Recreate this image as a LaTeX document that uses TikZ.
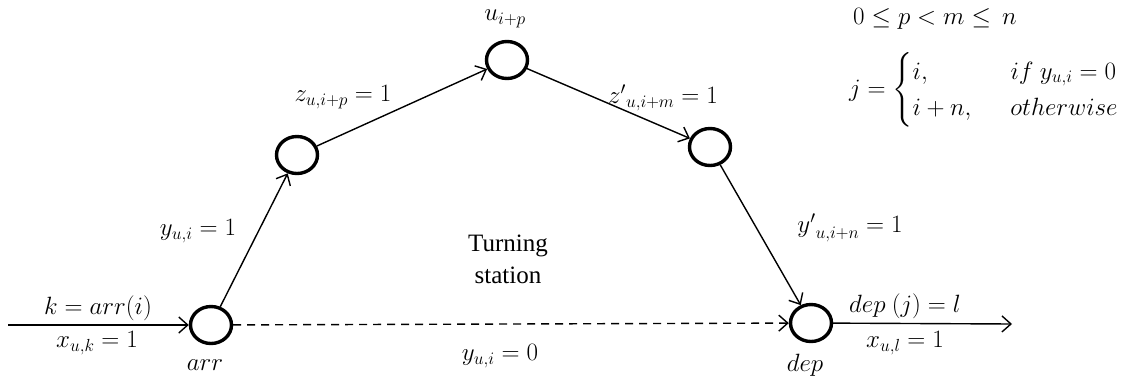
\RequirePackage{fix-cm}
\documentclass[tikz,border=0pt]{standalone}
\usepackage{amsmath}
\usepackage{fontspec}
\setmainfont{Liberation Serif}
\usetikzlibrary{arrows.meta,shapes.geometric}
\begin{document}
\begin{tikzpicture}[x=1pt,y=-1pt,
  st/.style={draw,ellipse,line width=3.4pt,minimum width=41pt,minimum height=37pt,inner sep=0pt},
  lab/.style={font=\fontsize{25}{30}\selectfont,inner sep=1pt},
  txt/.style={font=\fontsize{25}{32}\selectfont,inner sep=1pt},
  arc/.style={line width=1.4pt,-{Straight Barb[length=9pt,width=16pt,line width=1.4pt]}},
  every node/.append style={text=black}]
\useasboundingbox (0,0) rectangle (1129,383);
\node[st] (arr) at (211,325) {};
\node[st] (b) at (297,155) {};
\node[st] (top) at (507,60) {};
\node[st] (c) at (710,147) {};
\node[st] (dep) at (811,323) {};
\coordinate (in) at (8,325);
\coordinate (out) at (1012,324);
\draw[arc] (in) -- (arr);
\draw[arc] (arr) -- (b);
\draw[arc] (b) -- (top);
\draw[arc] (top) -- (c);
\draw[arc] (c) -- (dep);
\draw[arc,dashed,dash pattern=on 8pt off 6pt] (arr) -- (dep);
\draw[arc] (dep) -- (out);
\node[lab] (l1) at (98,308) {$k = arr(i)$};
\node[lab] (l2) at (97,343) {$x_{u,k} = 1$};
\node[lab] (l3) at (205,365) {$arr$};
\node[lab] (l4) at (805,365) {$dep$};
\node[lab] (l5) at (905,306) {$dep\ (j) = l$};
\node[lab] (l6) at (905,343) {$x_{u,l} = 1$};
\node[lab] (l7) at (500,356) {$y_{u,i} = 0$};
\node[txt,align=center] (ts) at (508,259) {Turning\\station};
\node[lab] (l8) at (198,231) {$y_{u,i} = 1$};
\node[lab] (l9) at (343,97) {$z_{u,i+p} = 1$};
\node[lab] (l10) at (505,19) {$u_{i+p}$};
\node[lab] (l11) at (663,98) {${z'}_{u,i+m} = 1$};
\node[lab] (l12) at (850,228) {${y'}_{u,i+n} = 1$};
\node[lab,anchor=west,inner sep=0pt] (l13) at (853,18.5) {$0 \le p < m \le\, n$};
\node[lab,anchor=west,inner sep=0pt] (l14) at (849,90) {$j = \begin{cases} i, & \hspace{14pt} if\ y_{u,i} = 0\\ i+n, & \hspace{14pt} otherwise\end{cases}$};
\end{tikzpicture}
\end{document}
